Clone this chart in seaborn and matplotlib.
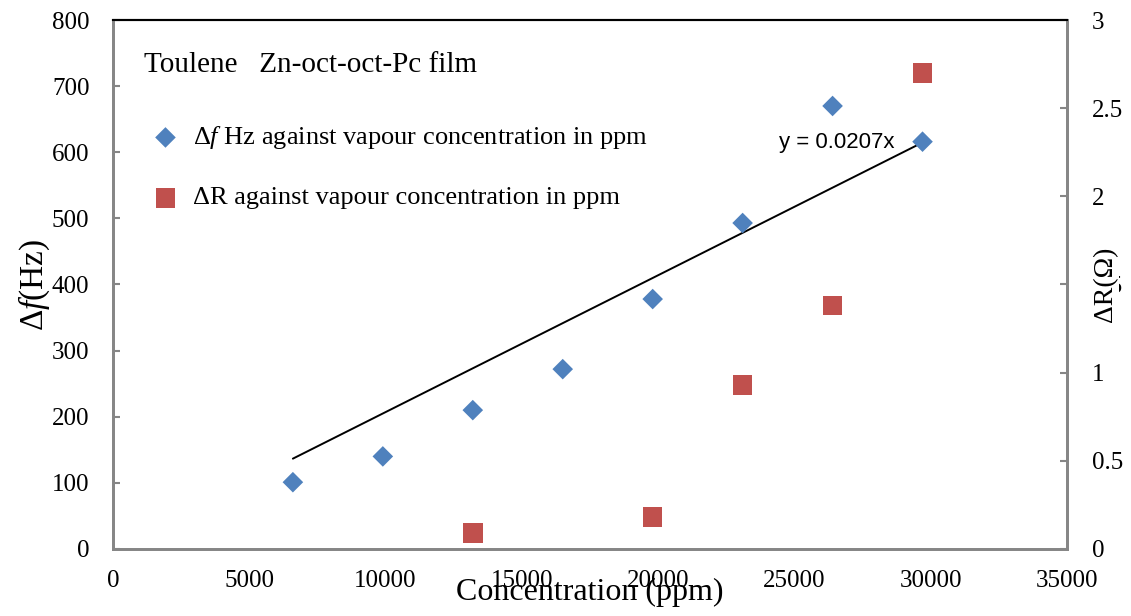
import matplotlib
matplotlib.use("Agg")
import matplotlib.pyplot as plt
import numpy as np
import pandas as pd
import seaborn as sns

# значения
conc_f = [6600, 9900, 13200, 16500, 19800, 23100, 26400, 29700]
delta_f = [101, 140, 210, 272, 378, 493, 670, 616]
conc_r = [13200, 19800, 23100, 26400, 29700]
delta_r = [0.09, 0.18, 0.93, 1.38, 2.70]
slope = 0.0207

x_ticks = [0, 5000, 10000, 15000, 20000, 25000, 30000, 35000]
yl_ticks = [0, 100, 200, 300, 400, 500, 600, 700, 800]
yr_ticks = [0, 0.5, 1, 1.5, 2, 2.5, 3]

BLUE = "#4F81BD"
RED = "#C0504D"
GREY = "#868686"

sns.set_theme(style="white")
plt.rcParams["font.family"] = ["Liberation Serif", "DejaVu Serif"]
plt.rcParams["mathtext.fontset"] = "custom"
plt.rcParams["mathtext.rm"] = "Liberation Serif"
plt.rcParams["mathtext.it"] = "Liberation Serif:italic"
plt.rcParams["text.color"] = "black"
plt.rcParams["axes.labelcolor"] = "black"
plt.rcParams["xtick.color"] = "black"
plt.rcParams["ytick.color"] = "black"

fig = plt.figure(figsize=(11.31, 6.16), dpi=100)
ax = fig.add_axes([0.0999, 0.1088, 0.8435, 0.8587])
ax2 = ax.twinx()

df_f = pd.DataFrame({"conc": conc_f, "df": delta_f})
df_r = pd.DataFrame({"conc": conc_r, "dr": delta_r})
trend = pd.DataFrame({"conc": [min(conc_f), max(conc_f)]})
trend["fit"] = slope * trend["conc"]

sns.lineplot(data=trend, x="conc", y="fit", ax=ax, color="black", lw=1.4)
sns.scatterplot(data=df_f, x="conc", y="df", ax=ax, marker="D", s=110,
                color=BLUE, edgecolor="none", zorder=3)
sns.scatterplot(data=df_r, x="conc", y="dr", ax=ax2, marker="s", s=200,
                color=RED, edgecolor="none", zorder=3)

ax.set_xlim(0, 35000)
ax.set_ylim(0, 800)
ax2.set_ylim(0, 3)
ax.set_xticks(x_ticks)
ax.set_yticks(yl_ticks)
ax2.set_yticks(yr_ticks)
ax2.set_yticklabels([f"{t:g}" for t in yr_ticks])

for a in (ax, ax2):
    for side in ("left", "right", "bottom"):
        a.spines[side].set_color(GREY)
        a.spines[side].set_linewidth(2)
    a.spines["top"].set_color("black")
    a.spines["top"].set_linewidth(1.5)
ax.tick_params(axis="both", direction="in", length=5, width=1.5,
               color=GREY, labelsize=18)
ax.tick_params(axis="y", pad=17)
ax.tick_params(axis="x", pad=15)
ax2.tick_params(axis="y", direction="in", length=5, width=1.5,
                color=GREY, labelsize=18, pad=18)

ax.set_xlabel("Concentration (ppm)", fontsize=23, labelpad=-10)
ax.set_ylabel(r"$\Delta$$\it{f}$(Hz)", fontsize=24, labelpad=0)
ax2.set_ylabel("ΔR(Ω)", fontsize=20, labelpad=-22,
               bbox=dict(facecolor="white", edgecolor="none", pad=1))

ax.text(0.033, 0.915, "Toulene   Zn-oct-oct-Pc film", transform=ax.transAxes,
        fontsize=21, va="center")
ax.text(0.698, 0.768, "y = 0.0207x", transform=ax.transAxes,
        fontsize=16, family="Liberation Sans", va="center")

# легенда вручную, как в исходнике
ax.scatter([0.055], [0.778], transform=ax.transAxes, marker="D", s=110,
           color=BLUE, edgecolor="none", clip_on=False)
ax.text(0.084, 0.778, r"$\Delta$$\it{f}$ Hz against vapour concentration in ppm",
        transform=ax.transAxes, fontsize=19, va="center")
ax.scatter([0.055], [0.663], transform=ax.transAxes, marker="s", s=200,
           color=RED, edgecolor="none", clip_on=False)
ax.text(0.084, 0.663, "ΔR against vapour concentration in ppm",
        transform=ax.transAxes, fontsize=19, va="center")

fig.savefig("out.png", dpi=100)
